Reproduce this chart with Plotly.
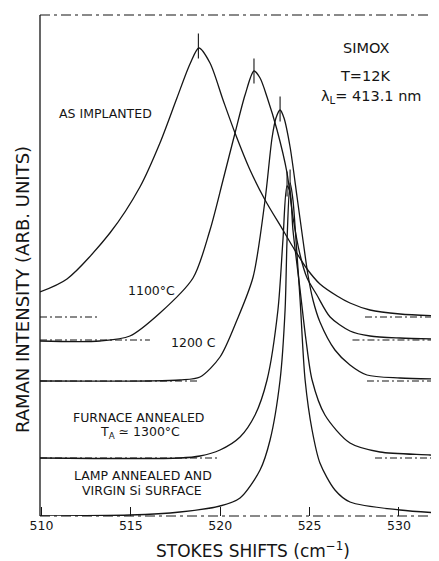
import plotly.graph_objects as go

# ---- data (Raman shift in cm^-1, intensity in arb. units) ----
asimp_x = [509.92, 511.43, 513.83, 515.51, 516.63, 517.58, 518.31, 518.81, 519.43, 520.16, 520.83,
           521.67, 522.51, 523.51, 524.07, 524.86, 525.58, 526.54, 527.26, 528.38, 530.06, 532.24]
asimp_y = [44.8, 47.4, 56.6, 65.8, 74.6, 83.6, 90.4, 93.6, 90.6, 83.2, 76.6,
           69.2, 63.2, 57.2, 53.8, 49.4, 46.4, 44.0, 42.6, 41.2, 40.4, 40.0]

c1100_x = [509.92, 513.27, 514.95, 516.63, 518.48, 519.43, 520.16, 520.83, 521.39, 521.89, 522.23,
           522.62, 523.18, 523.74, 524.07, 524.47, 524.86, 525.41, 526.15, 527.26, 528.38, 530.06, 532.24]
c1100_y = [35.0, 35.0, 36.0, 40.6, 47.6, 57.2, 67.2, 76.6, 84.2, 89.0, 87.6,
           83.8, 77.2, 68.6, 59.8, 52.2, 47.6, 44.2, 39.8, 37.0, 36.0, 35.6, 35.4]

c1200_x = [509.92, 516.07, 517.75, 518.87, 519.99, 520.94, 521.84, 522.51, 522.90, 523.12, 523.35,
           523.57, 523.91, 524.30, 524.63, 524.91, 525.19, 525.58, 526.42, 527.26, 528.21, 530.06, 532.24]
c1200_y = [27.0, 27.0, 27.2, 27.8, 31.8, 39.2, 47.8, 63.2, 75.6, 79.6, 81.2,
           79.6, 73.8, 63.8, 55.2, 48.2, 43.2, 38.8, 33.2, 30.2, 28.2, 27.6, 27.4]

furn_x = [509.92, 517.75, 518.87, 519.99, 521.11, 521.95, 522.62, 523.23, 523.51, 523.74, 523.91,
          524.07, 524.47, 524.80, 525.14, 525.86, 527.26, 528.94, 531.74, 532.24]
furn_y = [11.6, 11.6, 12.0, 13.2, 15.8, 20.2, 27.2, 41.2, 55.2, 66.0, 64.8,
          57.2, 45.2, 35.2, 27.2, 20.2, 14.6, 12.8, 12.2, 12.0]

lamp_x = [509.92, 514.95, 517.75, 519.99, 521.11, 522.23, 522.79, 523.35, 523.63, 523.74, 523.91,
          524.07, 524.24, 524.47, 524.75, 525.14, 525.58, 526.42, 527.26, 530.06, 532.24]
lamp_y = [0.0, 0.2, 0.8, 2.0, 3.6, 9.2, 15.2, 27.2, 41.2, 55.2, 66.6,
          63.2, 55.2, 43.2, 27.2, 17.2, 10.6, 5.2, 2.8, 1.2, 0.6]

# peak position marks (x, intensity)
peak_x = [518.78, 521.89, 523.35, 523.74, 523.91]
peak_y = [94.0, 89.0, 81.4, 66.4, 66.8]

# dashed base lines: intensity level, left segment end, right segment start
base_level = [39.8, 35.2, 27.0, 11.6]
base_left_end = [513.11, 516.07, 518.87, 519.99]
base_right_start = [528.10, 527.40, 528.21, 528.66]
x_min, x_max = 509.92, 532.24

tick_vals = [510, 515, 520, 525, 530]

labels = ["AS IMPLANTED", "1100°C", "1200 C", "FURNACE ANNEALED", "T<sub>A</sub> ≃ 1300°C",
          "LAMP ANNEALED AND", "VIRGIN Si SURFACE"]
label_x = [513.61, 516.18, 518.53, 515.46, 515.51, 515.68, 515.62]
label_y = [80.6, 45.2, 34.8, 19.8, 16.8, 8.2, 5.2]

info = ["SIMOX", "T=12K", "λ<sub>L</sub>= 413.1 nm"]
info_x = [528.16, 528.10, 528.44]
info_y = [93.6, 88.0, 83.8]

INK = "#151515"
FONT = "DejaVu Sans, Verdana, sans-serif"

fig = go.Figure()

for xs, ys in [(asimp_x, asimp_y), (c1100_x, c1100_y), (c1200_x, c1200_y),
               (furn_x, furn_y), (lamp_x, lamp_y)]:
    fig.add_trace(go.Scatter(x=xs, y=ys, mode="lines",
                             line=dict(color=INK, width=1.3, shape="spline", smoothing=0.8),
                             hoverinfo="skip", showlegend=False))

fig.add_trace(go.Scatter(x=peak_x, y=peak_y, mode="markers",
                         marker=dict(symbol="line-ns", size=18, line=dict(color=INK, width=1.1)),
                         hoverinfo="skip", showlegend=False))

dash = "7px,3px,2px,3px"
for lv, le, rs in zip(base_level, base_left_end, base_right_start):
    fig.add_shape(type="line", x0=x_min, x1=le, y0=lv, y1=lv, xref="x", yref="y",
                  line=dict(color=INK, width=1.1, dash=dash))
    fig.add_shape(type="line", x0=rs, x1=x_max, y0=lv, y1=lv, xref="x", yref="y",
                  line=dict(color=INK, width=1.1, dash=dash))

# frame: solid left, dashed top and bottom
fig.add_shape(type="line", x0=0, x1=0, y0=0, y1=1, xref="paper", yref="paper",
              line=dict(color=INK, width=1.3))
fig.add_shape(type="line", x0=0, x1=1, y0=1, y1=1, xref="paper", yref="paper",
              line=dict(color=INK, width=1.2, dash="10px,4px,3px,4px"))
fig.add_shape(type="line", x0=0, x1=1, y0=0, y1=0, xref="paper", yref="paper",
              line=dict(color=INK, width=1.2, dash="10px,4px,3px,4px"))

for t, x, y in zip(labels, label_x, label_y):
    fig.add_annotation(x=x, y=y, text=t, showarrow=False, xref="x", yref="y",
                       xanchor="center", yanchor="middle",
                       font=dict(family=FONT, size=12.5, color=INK))
for t, x, y in zip(info, info_x, info_y):
    fig.add_annotation(x=x, y=y, text=t, showarrow=False, xref="x", yref="y",
                       xanchor="center", yanchor="middle",
                       font=dict(family=FONT, size=14.5, color=INK))

fig.add_annotation(x=0.534, y=-0.068, xref="paper", yref="paper", showarrow=False,
                   xanchor="center", yanchor="middle",
                   text="STOKES SHIFTS (cm<sup>−1</sup>)",
                   font=dict(family=FONT, size=17, color=INK))
fig.add_annotation(x=-0.045, y=0.451, xref="paper", yref="paper", showarrow=False,
                   xanchor="center", yanchor="middle",
                   text="RAMAN INTENSITY (ARB. UNITS)", textangle=-90,
                   font=dict(family=FONT, size=18, color=INK))

# the page body has an 8px margin, so the figure is sized/offset to fit the window
fig.update_layout(
    width=431, height=553,
    margin=dict(l=32, r=0, t=7, b=45),
    paper_bgcolor="white", plot_bgcolor="white",
    xaxis=dict(range=[x_min, x_max], tickvals=tick_vals, ticks="inside", ticklen=9,
               tickcolor=INK, tickwidth=1.1, showline=False, showgrid=False, zeroline=False,
               tickfont=dict(family=FONT, size=12.5, color=INK)),
    yaxis=dict(range=[0, 100.2], showticklabels=False, ticks="", showline=False,
               showgrid=False, zeroline=False),
)

fig.write_html("out.html")
